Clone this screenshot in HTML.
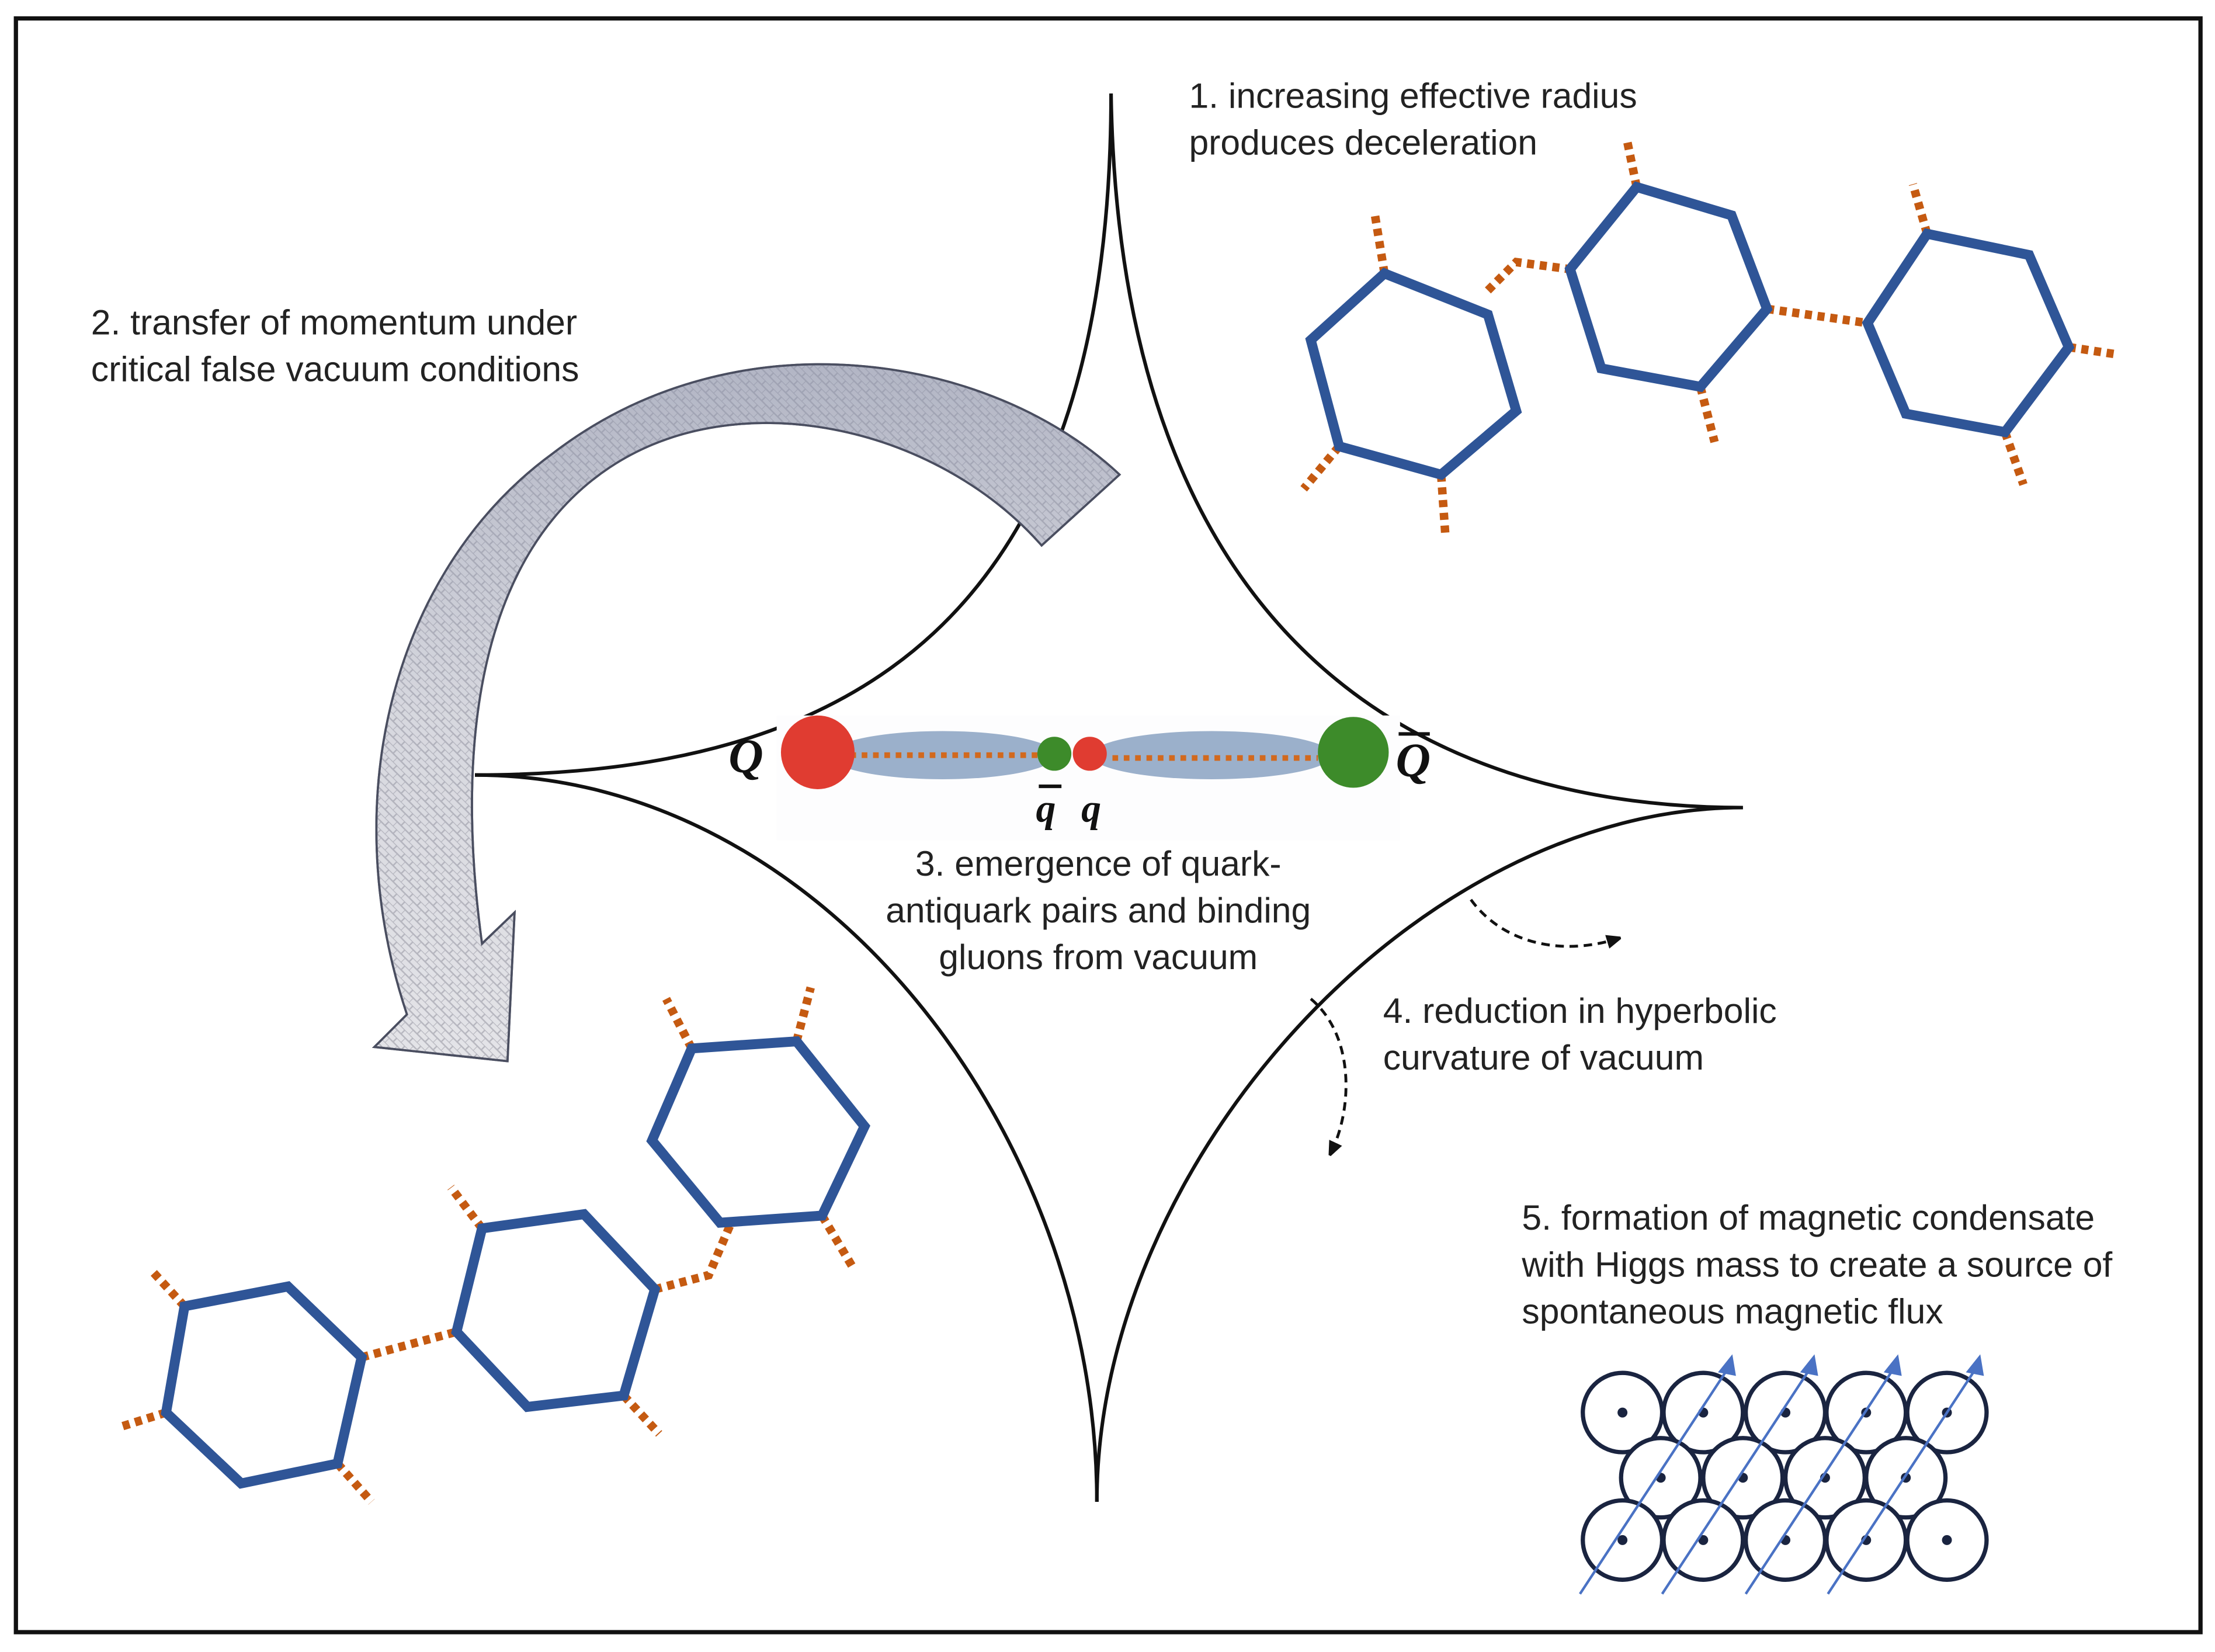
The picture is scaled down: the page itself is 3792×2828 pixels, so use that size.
<!DOCTYPE html>
<html><head><meta charset="utf-8"><style>
html,body{margin:0;padding:0;background:#fff}
svg{display:block}
text{font-family:"Liberation Sans",sans-serif;font-size:25px;fill:#222}
.q{font-family:"Liberation Serif",serif;font-style:italic;font-weight:bold;font-size:34px;fill:#111}
</style></head><body>
<svg width="3792" height="2828" viewBox="0 0 1563 1166" xmlns="http://www.w3.org/2000/svg">
<defs>
<pattern id="hp" width="8" height="8" patternUnits="userSpaceOnUse" patternTransform="rotate(45)">
<rect width="8" height="8" fill="#e4e4e8"/>
<path d="M0 0H8M0 4H8M4 0V4M0 4V8" stroke="#b8b8c0" stroke-width="1"/>
</pattern>
<linearGradient id="gd" x1="0" y1="0" x2="0" y2="1">
<stop offset="0" stop-color="#8a90a8" stop-opacity="0.55"/>
<stop offset="0.5" stop-color="#8a90a8" stop-opacity="0.15"/>
<stop offset="1" stop-color="#8a90a8" stop-opacity="0"/>
</linearGradient>
<marker id="ah" markerWidth="10" markerHeight="10" refX="6" refY="5" orient="auto" markerUnits="userSpaceOnUse">
<path d="M0,0 L12,5 L0,10 Z" fill="#111"/>
</marker>
</defs>
<rect x="11" y="13" width="1542" height="1139" fill="none" stroke="#111" stroke-width="3"/>

<!-- astroid -->
<g fill="none" stroke="#111" stroke-width="2.5">
<path d="M784,66 C784,440 600,547 335,547"/>
<path d="M784,66 C790,450 1000,570 1230,570"/>
<path d="M335,547 C580,547 774,800 774,1060"/>
<path d="M1230,570 C1000,570 774,820 774,1060"/>
</g>

<!-- big arrow -->
<g stroke="#4a4e60" stroke-width="1.5">
<path id="arr" d="M735,385 C660,300 520,270 430,330 C340,390 320,520 340,666 L363,644 L358,749 L264,739 L287,716 C235,560 280,400 390,320 C520,220 700,250 790,335 Z" fill="url(#hp)"/>
<path d="M735,385 C660,300 520,270 430,330 C340,390 320,520 340,666 L363,644 L358,749 L264,739 L287,716 C235,560 280,400 390,320 C520,220 700,250 790,335 Z" fill="url(#gd)"/>
</g>

<!-- dotted connectors -->
<g fill="none" stroke="#C55A11" stroke-width="6" stroke-dasharray="5,4">
<path d="M1050,205 L1070,185 L1108,190"/>
<path d="M1247,218 L1318,228"/>
<path d="M977,193 L970,150"/><path d="M945,315 L920,345"/><path d="M1017,335 L1020,378"/>
<path d="M1155,132 L1148,98"/><path d="M1200,273 L1210,312"/>
<path d="M1360,165 L1350,130"/><path d="M1460,245 L1493,250"/><path d="M1415,305 L1428,342"/>
<path d="M488,740 L470,705"/><path d="M562,735 L572,697"/><path d="M580,858 L602,895"/>
<path d="M462,910 L500,900 L515,865"/>
<path d="M340,867 L318,838"/><path d="M440,985 L465,1012"/>
<path d="M255,958 L322,940"/>
<path d="M130,922 L107,897"/><path d="M117,997 L85,1007"/><path d="M238,1033 L262,1060"/>
</g>
<g fill="#fff" stroke="#2F5597" stroke-width="7" stroke-linejoin="miter">
<polygon points="977,193 1050,222 1070,290 1017,335 945,315 925,240"/>
<polygon points="1155,132 1222,152 1247,218 1200,273 1130,260 1108,190"/>
<polygon points="1360,165 1432,180 1460,245 1415,305 1345,292 1318,228"/>
<polygon points="488,740 562,735 610,795 580,858 508,863 460,805"/>
<polygon points="340,867 412,857 462,910 440,985 372,993 322,940"/>
<polygon points="130,922 203,908 255,958 238,1033 170,1047 117,997"/>
</g>

<!-- quarks -->
<rect x="548" y="505" width="440" height="88" fill="#fdfdfe"/>
<ellipse cx="665" cy="533" rx="80" ry="17" fill="#9BB0CB"/>
<ellipse cx="855" cy="533" rx="85" ry="17" fill="#9BB0CB"/>
<g stroke="#D2691E" stroke-width="4" stroke-dasharray="4,4">
<path d="M600,533 L735,533"/><path d="M785,535 L930,535"/>
</g>
<circle cx="577" cy="531" r="26" fill="#E03C31"/>
<circle cx="744" cy="532" r="12" fill="#3D8B2A"/>
<circle cx="769" cy="532" r="12" fill="#E03C31"/>
<circle cx="955" cy="531" r="25" fill="#3D8B2A"/>
<text class="q" x="514" y="545">Q</text>
<text class="q" x="985" y="548">Q</text>
<path d="M987,518 H1009" stroke="#111" stroke-width="2.5"/>
<text class="q" x="731" y="580" style="font-size:28px">q</text>
<path d="M733,555 H749" stroke="#111" stroke-width="2.5"/>
<text class="q" x="763" y="580" style="font-size:28px">q</text>

<!-- texts -->
<text x="839" y="76">1. increasing effective radius</text>
<text x="839" y="109">produces deceleration</text>
<text x="64" y="236">2. transfer of momentum under</text>
<text x="64" y="269">critical false vacuum conditions</text>
<text x="775" y="618" text-anchor="middle">3. emergence of quark-</text>
<text x="775" y="651" text-anchor="middle">antiquark pairs and binding</text>
<text x="775" y="684" text-anchor="middle">gluons from vacuum</text>
<text x="976" y="722">4. reduction in hyperbolic</text>
<text x="976" y="755">curvature of vacuum</text>
<text x="1074" y="868">5. formation of magnetic condensate</text>
<text x="1074" y="901">with Higgs mass to create a source of</text>
<text x="1074" y="934">spontaneous magnetic flux</text>

<!-- dashed arrows -->
<g fill="none" stroke="#111" stroke-width="2" stroke-dasharray="6,4">
<path d="M1038,635 C1060,665 1100,675 1140,663" marker-end="url(#ah)"/>
<path d="M925,705 C955,730 955,780 940,812" marker-end="url(#ah)"/>
</g>

<!-- circle lattice -->
<g fill="#fff" stroke="#1a2440" stroke-width="3">
<circle cx="1145" cy="997" r="28"/><circle cx="1202" cy="997" r="28"/><circle cx="1260" cy="997" r="28"/><circle cx="1317" cy="997" r="28"/><circle cx="1374" cy="997" r="28"/>
<circle cx="1172" cy="1043" r="28"/><circle cx="1230" cy="1043" r="28"/><circle cx="1288" cy="1043" r="28"/><circle cx="1345" cy="1043" r="28"/>
<circle cx="1145" cy="1087" r="28"/><circle cx="1202" cy="1087" r="28"/><circle cx="1260" cy="1087" r="28"/><circle cx="1317" cy="1087" r="28"/><circle cx="1374" cy="1087" r="28"/>
</g>
<g fill="#1a2440">
<circle cx="1145" cy="997" r="3.5"/><circle cx="1202" cy="997" r="3.5"/><circle cx="1260" cy="997" r="3.5"/><circle cx="1317" cy="997" r="3.5"/><circle cx="1374" cy="997" r="3.5"/>
<circle cx="1172" cy="1043" r="3.5"/><circle cx="1230" cy="1043" r="3.5"/><circle cx="1288" cy="1043" r="3.5"/><circle cx="1345" cy="1043" r="3.5"/>
<circle cx="1145" cy="1087" r="3.5"/><circle cx="1202" cy="1087" r="3.5"/><circle cx="1260" cy="1087" r="3.5"/><circle cx="1317" cy="1087" r="3.5"/><circle cx="1374" cy="1087" r="3.5"/>
</g>
<g stroke="#4A72C4" stroke-width="1.8" fill="#4A72C4">
<path d="M1115,1125 L1222,962"/><path d="M1222,958 L1214,968 L1224,970 Z"/>
<path d="M1173,1125 L1280,962"/><path d="M1280,958 L1272,968 L1282,970 Z"/>
<path d="M1232,1125 L1339,962"/><path d="M1339,958 L1331,968 L1341,970 Z"/>
<path d="M1290,1125 L1397,962"/><path d="M1397,958 L1389,968 L1399,970 Z"/>
</g>
</svg>
</body></html>
